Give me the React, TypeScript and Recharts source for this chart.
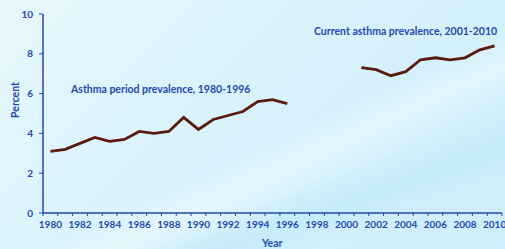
import { LineChart, Line, XAxis, YAxis } from 'recharts';

const years = [
  1980, 1981, 1982, 1983, 1984, 1985, 1986, 1987, 1988, 1989, 1990, 1991, 1992, 1993, 1994, 1995,
  1996, 1997, 1998, 1999, 2000, 2001, 2002, 2003, 2004, 2005, 2006, 2007, 2008, 2009, 2010,
];

// period prevalence 1980-1996, then a gap, then current prevalence 2001-2010
const periodPrevalence = [3.1, 3.2, 3.5, 3.8, 3.6, 3.7, 4.1, 4.0, 4.1, 4.8, 4.2, 4.7, 4.9, 5.1, 5.6, 5.7, 5.5];
const currentPrevalence = [7.3, 7.2, 6.9, 7.1, 7.7, 7.8, 7.7, 7.8, 8.2, 8.4];

const yTicks = [0, 2, 4, 6, 8, 10];
const yearLabels = [1980, 1982, 1984, 1986, 1988, 1990, 1992, 1994, 1996, 1998, 2000, 2002, 2004, 2006, 2008, 2010];

const data = years.map((year) => ({
  year,
  period: year <= 1996 ? periodPrevalence[year - 1980] : null,
  current: year >= 2001 ? currentPrevalence[year - 2001] : null,
}));

// tick marks sit between the years, like a category axis; labels on even years
const boundaries = [...years.map((y) => y - 0.5), 2010.5];
const xTicks = [...boundaries, ...yearLabels].sort((a, b) => a - b);

const BLUE = '#2149b0';
const font = 'Lato, "Open Sans", sans-serif';
const tickStyle = { fill: BLUE, fontSize: 10, fontWeight: 700, fontFamily: font };

const textStyle: React.CSSProperties = {
  position: 'absolute',
  color: BLUE,
  fontFamily: font,
  fontWeight: 700,
  fontSize: 10.5,
  whiteSpace: 'nowrap',
  lineHeight: 1,
};

const YearTick = (props: any) => {
  const { x, y, payload } = props;
  const v = payload.value;
  if (Number.isInteger(v)) {
    return (
      <text x={x} y={y + 15} textAnchor="middle" {...tickStyle}>
        {v}
      </text>
    );
  }
  return <line x1={x} x2={x} y1={y} y2={y + 3} stroke={BLUE} strokeWidth={1} />;
};

const App = () => {
  return (
    <div
      style={{
        position: 'absolute',
        left: 0,
        top: 0,
        width: 505,
        height: 249,
        overflow: 'hidden',
        background:
          'linear-gradient(155deg, rgba(255,255,255,0) 55%, rgba(255,255,255,0.35) 62%, rgba(255,255,255,0) 70%),' +
          'linear-gradient(160deg, rgba(255,255,255,0) 68%, rgba(170,225,245,0.35) 76%, rgba(255,255,255,0) 84%),' +
          'linear-gradient(135deg, #e8f7fd 0%, #d9f2fc 45%, #cdeefa 100%)',
      }}
    >
      <LineChart width={505} height={249} data={data} margin={{ top: 14, right: 3, bottom: 0, left: 0 }}>
        <XAxis
          dataKey="year"
          type="number"
          domain={[1979.5, 2010.5]}
          ticks={xTicks}
          interval={0}
          tick={<YearTick />}
          tickLine={false}
          tickSize={0}
          tickMargin={0}
          height={36}
          axisLine={{ stroke: BLUE, strokeWidth: 1.5 }}
        />
        <YAxis
          domain={[0, 10]}
          ticks={yTicks}
          width={43}
          tickSize={4}
          tickMargin={6}
          axisLine={{ stroke: BLUE, strokeWidth: 1.5 }}
          tickLine={{ stroke: BLUE }}
          tick={tickStyle}
        />
        <Line dataKey="period" stroke="#5a1a0c" strokeWidth={2.8} dot={false} isAnimationActive={false} />
        <Line dataKey="current" stroke="#5a1a0c" strokeWidth={2.8} dot={false} isAnimationActive={false} />
      </LineChart>
      <div style={{ ...textStyle, left: 71, top: 84 }}>Asthma period prevalence, 1980-1996</div>
      <div style={{ ...textStyle, left: 314, top: 26 }}>Current asthma prevalence, 2001-2010</div>
      <div style={{ ...textStyle, left: 262, top: 238 }}>Year</div>
      <div
        style={{
          ...textStyle,
          left: 15,
          top: 100,
          transform: 'translate(-50%, -50%) rotate(-90deg)',
        }}
      >
        Percent
      </div>
    </div>
  );
};

export default App;
